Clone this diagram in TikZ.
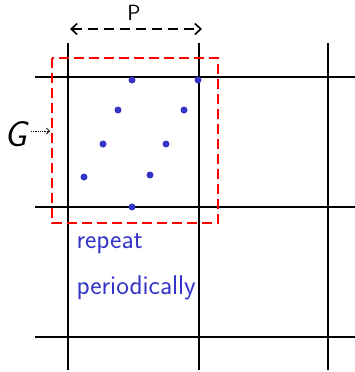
\documentclass[tikz,border=0pt]{standalone}
\usepackage{xcolor}
\usepackage{tikz}
\usetikzlibrary{arrows.meta}
\definecolor{inkblue}{RGB}{52,52,200}

\begin{document}
\begin{tikzpicture}[x=1pt,y=-1pt,>={Straight Barb[length=6pt,width=11pt]},
  gridline/.style={line width=1.9pt},
  cellbox/.style={red,line width=2.5pt,dash pattern=on 10pt off 5pt},
  handtext/.style={inkblue,font=\sffamily\fontsize{27}{30}\selectfont,anchor=west}]
  \useasboundingbox (0,0) rectangle (355,372);
  % lattice
  \foreach \x in {68,199,328} \draw[gridline] (\x,43) -- (\x,370);
  \foreach \y in {77,207,337} \draw[gridline] (35,\y) -- (355,\y);
  % unit cell
  \draw[cellbox] (52,58) rectangle (218,223);
  \coordinate (cellW) at (50,131);
  % atoms
  \foreach \p in {(132,80),(198,80),(118,110),(184,110),(103,144),(166,144),(84,177),(150,175),(132,207)}
    \fill[inkblue] \p circle (3.5pt);
  % period
  \coordinate (pL) at (70,29);
  \coordinate (pR) at (202,29);
  \draw[<->,line width=1.6pt,dash pattern=on 10pt off 6pt] (pL) -- (pR);
  \node[font=\sffamily\fontsize{22}{24}\selectfont] (per) at (134,13) {P};
  % label G
  \node[font=\sffamily\itshape\fontsize{36}{38}\selectfont] (gl) at (16,134) {G};
  \draw[->,densely dotted,line width=0.8pt,>={Straight Barb[length=3pt,width=6pt]}] (31,131) -- (cellW);
  \node[handtext] (rep) at (73,244) {repeat};
  \node[handtext] (prd) at (73,288) {periodically};
\end{tikzpicture}
\end{document}
